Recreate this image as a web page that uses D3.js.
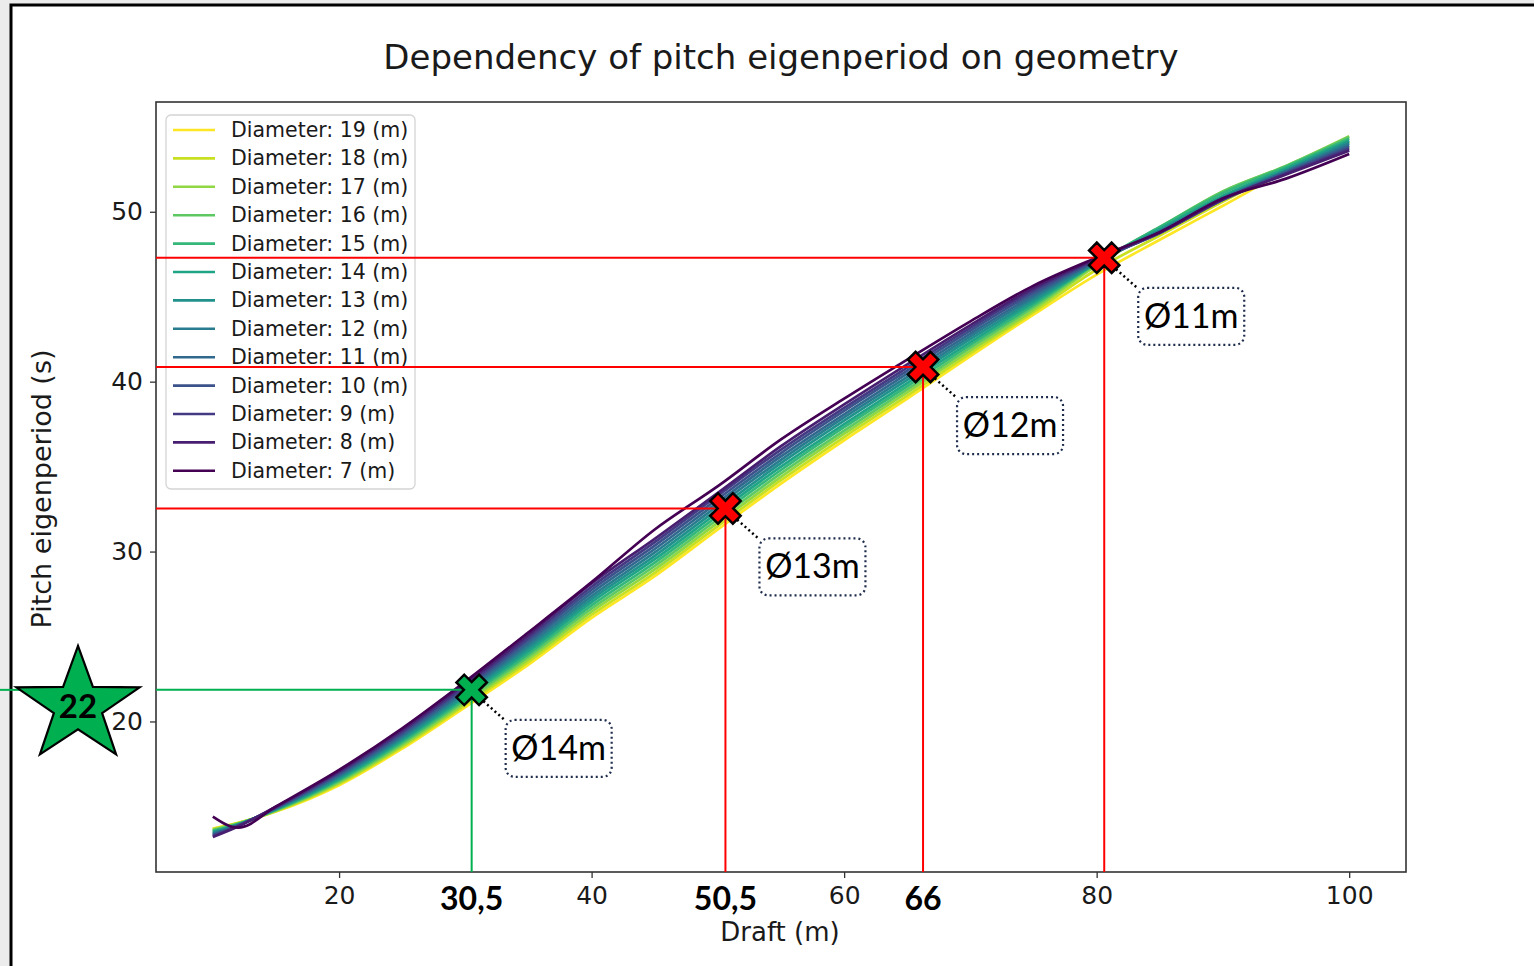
<!DOCTYPE html>
<html>
<head>
<meta charset="utf-8">
<script src="https://cdn.jsdelivr.net/npm/d3@7"></script>
<style>
  html, body { margin: 0; padding: 0; background: #ececec; overflow: hidden; }
  svg { display: block; }
</style>
</head>
<body>
<svg id="chart" width="1534" height="966"></svg>
<script>
// draft (m) where every diameter curve was sampled
const drafts = [10, 12, 15, 20, 25, 30, 35, 40, 45, 50, 55, 60, 65, 70, 75, 80, 85, 90, 95, 100];

// pitch eigenperiod (s) per diameter
const periodD19 = [13.7, 14.04, 14.7, 16.25, 18.4, 20.85, 23.35, 26.1, 28.55, 31.3, 34.0, 36.55, 39.0, 41.5, 43.95, 46.3, 48.35, 50.35, 52.35, 53.8];
const periodD18 = [13.66, 14.02, 14.72, 16.33, 18.5, 20.98, 23.51, 26.28, 28.75, 31.5, 34.2, 36.74, 39.18, 41.67, 44.09, 46.6, 48.6, 50.6, 52.5, 54.1];
const periodD17 = [13.62, 14.0, 14.75, 16.4, 18.6, 21.1, 23.67, 26.47, 28.95, 31.7, 34.4, 36.94, 39.37, 41.83, 44.23, 46.85, 49.05, 51.2, 52.7, 54.45];
const periodD16 = [13.6, 13.98, 14.78, 16.48, 18.7, 21.23, 23.83, 26.65, 29.15, 31.9, 34.6, 37.12, 39.55, 42.0, 44.38, 46.95, 49.1, 51.2, 52.7, 54.4];
const periodD15 = [13.55, 13.96, 14.8, 16.55, 18.8, 21.35, 23.98, 26.83, 29.35, 32.1, 34.8, 37.32, 39.73, 42.17, 44.52, 47.0, 49.1, 51.1, 52.65, 54.3];
const periodD14 = [13.5, 13.94, 14.83, 16.63, 18.9, 21.48, 24.14, 27.02, 29.55, 32.3, 35.0, 37.5, 39.92, 42.33, 44.66, 47.0, 49.0, 50.95, 52.55, 54.2];
const periodD13 = [13.45, 13.92, 14.85, 16.7, 19.0, 21.6, 24.3, 27.2, 29.75, 32.5, 35.2, 37.7, 40.1, 42.5, 44.8, 47.0, 48.9, 50.85, 52.45, 54.1];
const periodD12 = [13.4, 13.9, 14.87, 16.78, 19.1, 21.73, 24.46, 27.38, 29.95, 32.7, 35.4, 37.9, 40.28, 42.67, 44.94, 47.05, 48.85, 50.8, 52.4, 54.0];
const periodD11 = [13.35, 13.88, 14.9, 16.85, 19.2, 21.85, 24.62, 27.57, 30.15, 32.9, 35.6, 38.08, 40.47, 42.83, 45.08, 47.1, 48.8, 50.75, 52.35, 53.9];
const periodD10 = [13.3, 13.86, 14.92, 16.93, 19.3, 21.98, 24.78, 27.75, 30.35, 33.1, 35.8, 38.28, 40.65, 43.0, 45.23, 47.15, 48.75, 50.7, 52.3, 53.8];
const periodD9 = [13.25, 13.84, 14.95, 17.0, 19.4, 22.1, 24.93, 27.93, 30.55, 33.3, 36.0, 38.46, 40.83, 43.17, 45.37, 47.2, 48.75, 50.7, 52.25, 53.7];
const periodD8 = [13.2, 13.82, 14.98, 17.08, 19.5, 22.23, 25.09, 28.12, 30.75, 33.45, 36.2, 38.66, 41.02, 43.33, 45.51, 47.25, 48.8, 50.75, 52.2, 53.6];
const periodD7 = [14.4, 13.75, 15.0, 17.15, 19.6, 22.35, 25.25, 28.2, 31.3, 33.85, 36.6, 39.0, 41.3, 43.55, 45.65, 47.3, 48.8, 50.8, 51.95, 53.4];

const diameters = [19, 18, 17, 16, 15, 14, 13, 12, 11, 10, 9, 8, 7];
const periods = [periodD19, periodD18, periodD17, periodD16, periodD15, periodD14, periodD13,
  periodD12, periodD11, periodD10, periodD9, periodD8, periodD7];

const xTicks = [20, 40, 60, 80, 100];
const yTicks = [20, 30, 40, 50];

// hand-placed read-outs on the chart
const markDraft = [30.5, 50.6, 66.25, 80.6];
const markPeriod = [21.86, 32.54, 40.86, 47.29];
const markText = ['Ø14m', 'Ø13m', 'Ø12m', 'Ø11m'];
const markDraftText = ['30,5', '50,5', '66', ''];
const markColor = ['#00b050', '#ff0000', '#ff0000', '#ff0000'];
const targetText = '22';

const svg = d3.select('#chart');
const plot = { left: 156, right: 1406, top: 102, bottom: 872 };

const x = d3.scaleLinear([5.5, 104.5], [plot.left, plot.right]);
const y = d3.scaleLinear([11.14, 56.46], [plot.bottom, plot.top]);
const color = d => d3.interpolateViridis((d - 7) / 12);

// slide frame
svg.append('rect')
  .attr('x', 11).attr('y', 5)
  .attr('width', 1600).attr('height', 1000)
  .attr('fill', '#fff')
  .attr('stroke', '#000')
  .attr('stroke-width', 3);

// title
svg.append('text')
  .attr('x', 781).attr('y', 69)
  .attr('text-anchor', 'middle')
  .attr('font-family', 'DejaVu Sans')
  .attr('font-size', 34)
  .attr('fill', '#1a1a1a')
  .text('Dependency of pitch eigenperiod on geometry');

// axes
const xAxis = svg.append('g')
  .attr('transform', `translate(0,${plot.bottom})`)
  .call(d3.axisBottom(x).tickValues(xTicks).tickSize(6).tickPadding(8).tickFormat(d3.format('d')));
const yAxis = svg.append('g')
  .attr('transform', `translate(${plot.left},0)`)
  .call(d3.axisLeft(y).tickValues(yTicks).tickSize(6).tickPadding(7).tickFormat(d3.format('d')));
[xAxis, yAxis].forEach(g => {
  g.select('.domain').remove();
  g.selectAll('line').attr('stroke', '#333').attr('stroke-width', 1.3);
  g.selectAll('text')
    .attr('font-family', 'DejaVu Sans')
    .attr('font-size', 25)
    .attr('fill', '#1a1a1a');
});

svg.append('text')
  .attr('x', 780).attr('y', 941)
  .attr('text-anchor', 'middle')
  .attr('font-family', 'DejaVu Sans')
  .attr('font-size', 26)
  .attr('fill', '#1a1a1a')
  .text('Draft (m)');

svg.append('text')
  .attr('transform', 'translate(51,489) rotate(-90)')
  .attr('text-anchor', 'middle')
  .attr('font-family', 'DejaVu Sans')
  .attr('font-size', 27)
  .attr('fill', '#1a1a1a')
  .text('Pitch eigenperiod (s)');

// curves, 19 m first so the small diameters end up on top
const line = d3.line()
  .x(d => x(d[0]))
  .y(d => y(d[1]))
  .curve(d3.curveMonotoneX);

svg.append('g')
  .selectAll('path')
  .data(diameters.map((dia, i) => ({ dia, pts: drafts.map((dr, j) => [dr, periods[i][j]]) })))
  .join('path')
    .attr('d', d => line(d.pts))
    .attr('fill', 'none')
    .attr('stroke', d => color(d.dia))
    .attr('stroke-width', 2.7)
    .attr('stroke-linejoin', 'round');

// axes frame
svg.append('rect')
  .attr('x', plot.left).attr('y', plot.top)
  .attr('width', plot.right - plot.left)
  .attr('height', plot.bottom - plot.top)
  .attr('fill', 'none')
  .attr('stroke', '#333')
  .attr('stroke-width', 1.6);

// legend
const legend = svg.append('g').attr('transform', 'translate(166,115)');
legend.append('rect')
  .attr('width', 249).attr('height', 374)
  .attr('rx', 5)
  .attr('fill', '#fff').attr('fill-opacity', 0.8)
  .attr('stroke', '#d4d4d4').attr('stroke-width', 1.3);
const rows = legend.selectAll('g.row')
  .data(diameters)
  .join('g')
    .attr('class', 'row')
    .attr('transform', (d, i) => `translate(0,${15 + i * 28.4})`);
rows.append('line')
  .attr('x1', 7).attr('x2', 49)
  .attr('stroke', d => color(d))
  .attr('stroke-width', 2.6);
rows.append('text')
  .attr('x', 65).attr('y', 7)
  .attr('font-family', 'DejaVu Sans')
  .attr('font-size', 20.5)
  .attr('fill', '#1a1a1a')
  .text(d => `Diameter: ${d} (m)`);

// read-out guide lines
const guides = svg.append('g');
markDraft.forEach((dr, i) => {
  const cx = x(dr), cy = y(markPeriod[i]);
  guides.append('line')
    .attr('x1', cx).attr('x2', cx).attr('y1', cy).attr('y2', plot.bottom)
    .attr('stroke', markColor[i]).attr('stroke-width', 2);
  if (i === 0) {
    guides.append('line')
      .attr('x1', 0).attr('x2', 20).attr('y1', cy).attr('y2', cy)
      .attr('stroke', markColor[i]).attr('stroke-width', 2);
  }
  guides.append('line')
    .attr('x1', plot.left).attr('x2', cx).attr('y1', cy).attr('y2', cy)
    .attr('stroke', markColor[i]).attr('stroke-width', 2);
});

// callouts: dotted leader, dotted rounded box, diameter text
const callouts = svg.append('g')
  .selectAll('g')
  .data(markDraft.map((dr, i) => ({ cx: x(dr), cy: y(markPeriod[i]), i })))
  .join('g');
callouts.append('line')
  .attr('x1', d => d.cx + 8).attr('y1', d => d.cy + 8)
  .attr('x2', d => d.cx + 34).attr('y2', d => d.cy + 31)
  .attr('stroke', '#000').attr('stroke-width', 2.5)
  .attr('stroke-dasharray', '2 3');
callouts.append('rect')
  .attr('x', d => d.cx + 34).attr('y', d => d.cy + 30)
  .attr('width', 106).attr('height', 57)
  .attr('rx', 9)
  .attr('fill', '#fff')
  .attr('stroke', '#1f2d4d').attr('stroke-width', 2.2)
  .attr('stroke-dasharray', '2 3');
callouts.append('text')
  .attr('x', d => d.cx + 87).attr('y', d => d.cy + 70)
  .attr('text-anchor', 'middle')
  .attr('font-family', 'Lato')
  .attr('font-size', 34)
  .attr('fill', '#000')
  .text(d => markText[d.i]);

// crosses
const a = 16, b = 5.5;
const crossPath = `M${-b},${-a}H${b}V${-b}H${a}V${b}H${b}V${a}H${-b}V${b}H${-a}V${-b}H${-b}Z`;
callouts.append('path')
  .attr('d', crossPath)
  .attr('transform', d => `translate(${d.cx},${d.cy}) rotate(45)`)
  .attr('fill', d => markColor[d.i])
  .attr('stroke', '#000').attr('stroke-width', 2.5)
  .attr('stroke-linejoin', 'miter');

// bold draft labels under the guides
svg.append('g')
  .selectAll('text')
  .data(markDraft.filter((d, i) => markDraftText[i]))
  .join('text')
    .attr('x', d => x(d))
    .attr('y', 910)
    .attr('text-anchor', 'middle')
    .attr('font-family', 'Lato')
    .attr('font-weight', 'bold')
    .attr('font-size', 32)
    .attr('fill', '#000')
    .text((d, i) => markDraftText[i]);

// target period star
const sy = y(markPeriod[0]) + 16, sx = 78, R = 60, r = 23.5;
const starPts = d3.range(10).map(k => {
  const ang = k * Math.PI / 5;
  const rr = k % 2 ? r : R;
  return [sx + 1.08 * rr * Math.sin(ang), sy - rr * Math.cos(ang)];
});
svg.append('path')
  .attr('d', 'M' + starPts.join('L') + 'Z')
  .attr('fill', '#00b050')
  .attr('stroke', '#000').attr('stroke-width', 2.2)
  .attr('stroke-linejoin', 'miter');
svg.append('text')
  .attr('x', sx).attr('y', sy + 12)
  .attr('text-anchor', 'middle')
  .attr('font-family', 'Lato')
  .attr('font-weight', 'bold')
  .attr('font-size', 33)
  .attr('fill', '#000')
  .text(targetText);
</script>
</body>
</html>
